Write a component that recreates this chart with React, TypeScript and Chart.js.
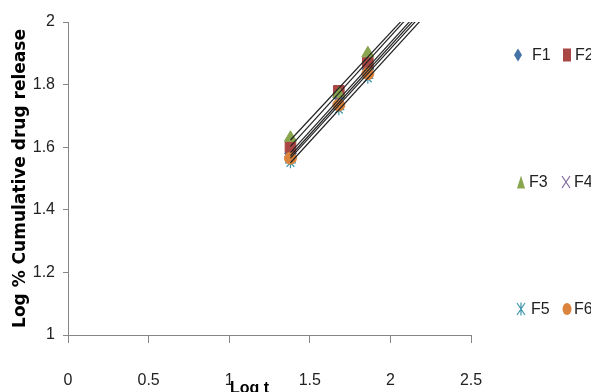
import React, { useEffect, useRef } from 'react';
import { Chart, registerables } from 'chart.js';

Chart.register(...registerables);

// ---- data ----
const seriesNames = ['F1', 'F2', 'F3', 'F4', 'F5', 'F6'];
const logT = [1.38, 1.68, 1.86];
const F1 = [1.58, 1.76, 1.85];
const F2 = [1.6, 1.78, 1.87];
const F3 = [1.63, 1.77, 1.9];
const F4 = [1.57, 1.75, 1.84];
const F5 = [1.55, 1.72, 1.82];
const F6 = [1.565, 1.735, 1.835];
const seriesValues = [F1, F2, F3, F4, F5, F6];
const xTickMin = 0;
const xTickMax = 2.5;
const xTickStep = 0.5;
const yTickMin = 1;
const yTickMax = 2;
const yTickStep = 0.2;
const xTitle = 'Log t';
const yTitle = 'Log % Cumulative drug release';

// ---- styles ----
const colors = ['#4572A7', '#AA4643', '#89A54E', '#80699B', '#3D96AE', '#DB843D'];
const pointStyles = ['rectRot', 'rect', 'triangle', 'crossRot', 'star', 'circle'];
const radii = [6, 7.5, 7, 5, 5.5, 6];
const narrow = "'Liberation Sans', Arial, sans-serif";

function fit(xs: number[], ys: number[]) {
  const n = xs.length;
  const mx = xs.reduce((a, b) => a + b, 0) / n;
  const my = ys.reduce((a, b) => a + b, 0) / n;
  let num = 0;
  let den = 0;
  for (let i = 0; i < n; i++) {
    num += (xs[i] - mx) * (ys[i] - my);
    den += (xs[i] - mx) * (xs[i] - mx);
  }
  const slope = num / den;
  return { slope, intercept: my - slope * mx };
}

function LegendMarker({ i }: { i: number }) {
  const c = colors[i];
  const s = { width: 10, height: 14, display: 'block' } as React.CSSProperties;
  switch (i) {
    case 0:
      return (<svg style={s} viewBox="0 0 10 14"><polygon points="5,0.5 9,7 5,13.5 1,7" fill={c} /></svg>);
    case 1:
      return (<svg style={s} viewBox="0 0 10 14"><rect x="1" y="0.5" width="8" height="13" fill={c} /></svg>);
    case 2:
      return (<svg style={s} viewBox="0 0 10 14"><polygon points="5,0.5 9,13.5 1,13.5" fill={c} /></svg>);
    case 3:
      return (<svg style={s} viewBox="0 0 10 14"><path d="M1,1 L9,13 M9,1 L1,13" stroke={c} strokeWidth="1.2" fill="none" /></svg>);
    case 4:
      return (<svg style={s} viewBox="0 0 10 14"><path d="M1,1 L9,13 M9,1 L1,13 M5,0.5 L5,13.5" stroke={c} strokeWidth="1.2" fill="none" /></svg>);
    default:
      return (<svg style={s} viewBox="0 0 10 14"><ellipse cx="5" cy="7" rx="4.5" ry="6" fill={c} /></svg>);
  }
}

const legendPos = [
  { mx: 513, tx: 532, y: 55 },
  { mx: 562, tx: 575, y: 55 },
  { mx: 516, tx: 529, y: 182 },
  { mx: 561, tx: 574, y: 182 },
  { mx: 516, tx: 531, y: 309 },
  { mx: 562, tx: 574, y: 309 },
];

export default function App() {
  const ref = useRef<HTMLCanvasElement | null>(null);

  useEffect(() => {
    if (!ref.current) return;
    const markerSets: any[] = seriesNames.map((name, i) => ({
      label: name,
      data: logT.map((x, k) => ({ x, y: seriesValues[i][k] })),
      pointStyle: pointStyles[i],
      pointRadius: radii[i],
      pointBackgroundColor: colors[i],
      pointBorderColor: colors[i],
      pointBorderWidth: i === 3 || i === 4 ? 1.2 : 1,
      showLine: false,
      order: 6 - i + 1,
    }));
    const trendSets: any[] = seriesNames.map((name, i) => {
      const { slope, intercept } = fit(logT, seriesValues[i]);
      const x0 = logT[0];
      const x1 = xTickMax;
      return {
        label: name + ' trend',
        data: [
          { x: x0, y: slope * x0 + intercept },
          { x: x1, y: slope * x1 + intercept },
        ],
        showLine: true,
        borderColor: '#222222',
        borderWidth: 1.2,
        pointRadius: 0,
        fill: false,
        order: 0,
      };
    });

    const tickFont = { family: narrow, size: 16 };

    const chart = new Chart(ref.current, {
      type: 'scatter',
      data: { datasets: [...markerSets, ...trendSets] },
      options: {
        animation: false,
        responsive: false,
        layout: { padding: { top: 22, right: 120, left: 0, bottom: 0 } },
        plugins: { legend: { display: false }, tooltip: { enabled: false } },
        scales: {
          x: {
            type: 'linear',
            min: xTickMin,
            max: xTickMax,
            afterFit: (s: any) => { s.height = 57; },
            ticks: {
              stepSize: xTickStep,
              padding: 28,
              color: '#222222',
              font: tickFont,
              callback: (v: any) => String(Number(v)),
            },
            grid: {
              drawOnChartArea: false,
              drawTicks: true,
              tickLength: 8,
              color: '#868686',
            },
            border: { display: true, color: '#868686', width: 1 },
          },
          y: {
            type: 'linear',
            min: yTickMin,
            max: yTickMax,
            afterFit: (s: any) => { s.width = 68; },
            ticks: {
              stepSize: yTickStep,
              padding: 8,
              color: '#222222',
              font: tickFont,
              callback: (v: any) => String(Math.round(Number(v) * 10) / 10),
            },
            grid: {
              drawOnChartArea: false,
              drawTicks: true,
              tickLength: 5,
              color: '#868686',
            },
            border: { display: true, color: '#868686', width: 1 },
            title: {
              display: true,
              text: yTitle,
              color: '#000000',
              font: { family: "'DejaVu Sans', sans-serif", size: 17, weight: 'bold' },
              padding: { top: 10, bottom: 0 },
            },
          },
        },
      } as any,
    });
    return () => chart.destroy();
  }, []);

  return (
    <div style={{ position: 'absolute', left: 0, top: 0, width: 591, height: 392, overflow: 'hidden', background: '#ffffff' }}>
      <canvas ref={ref} width={591} height={392} style={{ width: 591, height: 392, display: 'block' }} />
      <div style={{ position: 'absolute', left: 230, top: 379, fontFamily: narrow, fontWeight: 'bold', fontSize: 16, color: '#000', lineHeight: '18px', whiteSpace: 'nowrap' }}>{xTitle}</div>
      {seriesNames.map((name, i) => (
        <React.Fragment key={name}>
          <div style={{ position: 'absolute', left: legendPos[i].mx, top: legendPos[i].y - 7 }}>
            <LegendMarker i={i} />
          </div>
          <div style={{ position: 'absolute', left: legendPos[i].tx, top: legendPos[i].y - 10, fontFamily: narrow, fontSize: 16, lineHeight: '20px', color: '#222', whiteSpace: 'nowrap' }}>{name}</div>
        </React.Fragment>
      ))}
    </div>
  );
}
